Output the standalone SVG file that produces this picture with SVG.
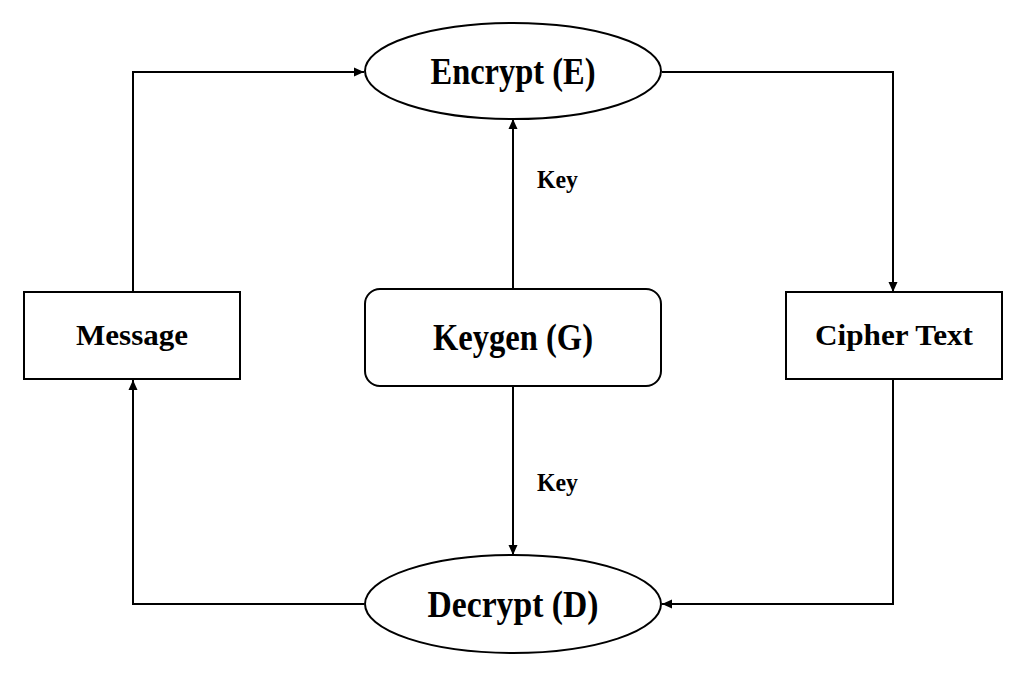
<svg xmlns="http://www.w3.org/2000/svg" width="1028" height="678" viewBox="0 0 1028 678">
<defs>
<marker id="arr" viewBox="0 0 10 10" refX="10" refY="5" markerWidth="10" markerHeight="10" markerUnits="userSpaceOnUse" orient="auto">
<path d="M0,0.5 L10,5 L0,9.5 Z" fill="#000"/>
</marker>
</defs>
<style>
.shape{fill:#fff;stroke:#000;stroke-width:2}
.conn{fill:none;stroke:#000;stroke-width:2;marker-end:url(#arr)}
.lbl{font-family:"Liberation Serif","Times New Roman",serif;font-weight:bold;fill:#000;text-anchor:middle}
.big{font-size:37px}
.mid{font-size:30px}
.small{font-size:25px}
</style>
<rect width="1028" height="678" fill="#fff"/>
<g id="connectors">
<polyline class="conn" points="133,292 133,72 364,72"/>
<polyline class="conn" points="662,72 893,72 893,292"/>
<polyline class="conn" points="893,380 893,604 662,604"/>
<polyline class="conn" points="364,604 133,604 133,380"/>
<line class="conn" x1="513" y1="289" x2="513" y2="119"/>
<line class="conn" x1="513" y1="387" x2="513" y2="555"/>
<text class="lbl small" x="557.5" y="188" textLength="41" lengthAdjust="spacingAndGlyphs">Key</text>
<text class="lbl small" x="557.5" y="491" textLength="41" lengthAdjust="spacingAndGlyphs">Key</text>
</g>
<g id="encrypt">
<ellipse class="shape" cx="513" cy="71" rx="148" ry="48"/>
<text class="lbl big" x="513" y="84" textLength="165" lengthAdjust="spacingAndGlyphs">Encrypt (E)</text>
</g>
<g id="keygen">
<rect class="shape" x="365" y="289" width="296" height="97" rx="15"/>
<text class="lbl big" x="513" y="350" textLength="160" lengthAdjust="spacingAndGlyphs">Keygen (G)</text>
</g>
<g id="message">
<rect class="shape" x="24" y="292" width="216" height="87"/>
<text class="lbl mid" x="132" y="345" textLength="112" lengthAdjust="spacingAndGlyphs">Message</text>
</g>
<g id="ciphertext">
<rect class="shape" x="786" y="292" width="216" height="87"/>
<text class="lbl mid" x="894" y="345" textLength="158" lengthAdjust="spacingAndGlyphs">Cipher Text</text>
</g>
<g id="decrypt">
<ellipse class="shape" cx="513" cy="604" rx="148" ry="49"/>
<text class="lbl big" x="513" y="617" textLength="171" lengthAdjust="spacingAndGlyphs">Decrypt (D)</text>
</g>
</svg>
